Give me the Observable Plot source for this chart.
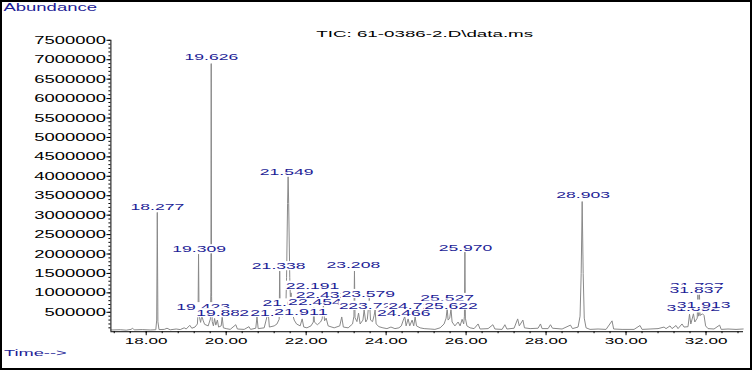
<!DOCTYPE html>
<html><head><meta charset="utf-8">
<script src="https://cdn.jsdelivr.net/npm/d3@7"></script>
<script src="https://cdn.jsdelivr.net/npm/@observablehq/plot@0.6"></script>
<style>
html,body{margin:0;padding:0;background:#fff;}
#wrap{position:relative;width:752px;height:370px;box-sizing:border-box;border:2px solid #000;background:#fff;}
#wrap svg{position:absolute;left:-2px;top:-2px;}
</style></head><body><div id="wrap"></div>
<script>
// ---- data ----
const titleText = "TIC: 61-0386-2.D\\data.ms";
const yLabelText = "Abundance";
const xLabelText = "Time-->";
const xDomain = [17.117, 32.938];
const yDomain = [0, 7500000];
const yTicks = [500000,1000000,1500000,2000000,2500000,3000000,3500000,4000000,4500000,5000000,5500000,6000000,6500000,7000000,7500000];
const xTicks = [18,20,22,24,26,28,30,32];

// chromatogram vertices (retention time, abundance)
const traceTime = [
 17.12,17.35,17.50,17.62,17.66,17.70,17.90,18.10,18.24,18.262,18.277,18.292,18.32,18.45,18.52,18.60,18.75,18.85,18.95,19.00,
 19.09,19.14,19.22,19.28,19.297,19.309,19.321,19.34,19.36,19.39,19.42,19.46,19.55,19.605,19.617,19.626,19.635,19.65,19.68,19.71,
 19.74,19.78,19.81,19.875,19.90,19.93,20.00,20.10,20.24,20.28,20.45,20.57,20.61,20.74,20.77,20.80,20.95,21.05,21.08,21.20,
 21.27,21.325,21.338,21.352,21.40,21.45,21.49,21.51,21.535,21.549,21.563,21.59,21.61,21.622,21.64,21.70,21.76,21.85,21.90,21.94,
 22.02,22.12,22.18,22.191,22.205,22.28,22.36,22.40,22.432,22.46,22.50,22.55,22.70,22.84,22.89,22.93,23.05,23.16,23.195,23.208,
 23.222,23.27,23.31,23.35,23.42,23.45,23.49,23.53,23.579,23.61,23.66,23.70,23.724,23.75,23.82,23.92,24.02,24.12,24.22,24.32,
 24.38,24.43,24.466,24.50,24.55,24.59,24.65,24.69,24.725,24.76,24.85,24.95,25.10,25.22,25.35,25.45,25.50,25.527,25.55,25.59,
 25.622,25.65,25.72,25.80,25.85,25.90,25.94,25.958,25.970,25.982,26.02,26.10,26.20,26.30,26.35,26.55,26.67,26.72,26.90,26.97,
 27.02,27.20,27.29,27.33,27.42,27.46,27.60,27.80,27.86,27.90,28.05,28.11,28.16,28.40,28.61,28.66,28.80,28.85,28.878,28.903,
 28.928,28.955,29.00,29.10,29.30,29.50,29.65,29.69,29.90,30.20,30.35,30.40,30.60,30.80,30.95,31.00,31.10,31.15,31.25,31.30,
 31.40,31.45,31.55,31.587,31.62,31.686,31.72,31.78,31.797,31.812,31.825,31.837,31.85,31.913,31.95,31.99,32.05,32.20,32.34,32.38,
 32.55,32.75,32.93
];
const traceAbund = [
 45000,52000,40000,60000,90000,48000,55000,45000,52000,300000,3070000,260000,55000,60000,90000,50000,70000,55000,100000,70000,
 165000,90000,120000,200000,500000,1995000,420000,330000,240000,420000,300000,190000,150000,330000,1000000,6900000,900000,260000,150000,340000,
 170000,300000,120000,150000,380000,100000,80000,60000,180000,70000,60000,130000,60000,90000,384000,80000,100000,510000,120000,150000,
 200000,320000,1560000,420000,380000,450000,520000,1400000,3300000,3990000,3300000,1400000,700000,1000000,550000,300000,200000,150000,330000,120000,
 100000,150000,250000,1000000,250000,180000,250000,330000,700000,280000,350000,150000,100000,150000,380000,120000,100000,200000,400000,1560000,
 360000,260000,480000,200000,300000,560000,250000,320000,860000,300000,260000,420000,560000,200000,130000,100000,80000,120000,80000,100000,
 150000,300000,390000,150000,330000,150000,300000,150000,380000,150000,100000,80000,70000,60000,100000,200000,350000,600000,300000,350000,
 580000,250000,150000,250000,150000,320000,200000,400000,2050000,350000,150000,100000,80000,200000,70000,80000,180000,70000,60000,180000,
 70000,90000,330000,150000,300000,100000,80000,90000,200000,80000,80000,180000,90000,70000,170000,80000,120000,400000,1500000,3350000,
 1500000,350000,100000,60000,70000,60000,280000,70000,60000,60000,160000,60000,70000,80000,120000,80000,150000,80000,160000,80000,
 200000,120000,130000,450000,200000,460000,250000,350000,950000,400000,420000,950000,420000,460000,420000,150000,80000,70000,170000,60000,
 70000,60000,70000
];

// peak labels: text, centre time, centre abundance
const labelText = ["18.277","19.309","19.423","19.626","19.882","21.046","21.212","21.338","21.549","21.622","21.911","22.191","22.454","22.432","23.208","23.493","23.579","23.724","24.466","24.725","25.527","25.622","25.970","28.903","31.692","31.797","31.837","31.913"];
const labelTime = [18.279,19.323,19.423,19.629,19.92,21.0,21.27,21.313,21.512,21.577,21.868,22.159,22.22,22.408,23.179,23.49,23.552,23.724,24.44,24.725,25.525,25.622,25.985,28.925,31.68,31.77,31.76,31.94];
const labelAbund = [3215000,2123000,632000,7059000,478000,486000,486000,1688000,4100000,729000,499000,1184000,767000,946000,1721000,665000,972000,665000,486000,665000,870000,673000,2166000,3529000,601000,1176000,1074000,698000];

// ---- build ----
const trace = traceTime.map((t, i) => ({t, a: traceAbund[i]}));
const labels = labelText.map((s, i) => ({s, t: labelTime[i], a: labelAbund[i]}));
const yMinor = d3.range(100000, 7500001, 100000);
const xMinor = d3.range(17.2, 32.95, 0.4);
const blue = "#1c1c96";

const plot = Plot.plot({
  width: 752, height: 370,
  marginLeft: 111, marginRight: 5, marginTop: 40, marginBottom: 37,
  style: {fontFamily: "'Liberation Sans', Arial, sans-serif", background: "transparent", color: "#000", overflow: "visible"},
  x: {domain: xDomain},
  y: {domain: yDomain},
  marks: [
    Plot.line(trace, {x: "t", y: "a", stroke: "#888", strokeWidth: 1}),
    Plot.text(labels, {x: "t", y: "a", text: "s", fill: blue, fontSize: 9.5, className: "peaklbl"}),
    Plot.ruleX([xDomain[0]], {y1: 0, y2: yDomain[1], stroke: "#000"}),
    Plot.ruleY([0], {stroke: "#000"}),
    Plot.axisY({ticks: yMinor, tickSize: 2, tickFormat: () => "", label: null, anchor: "left"}),
    Plot.axisY({ticks: yTicks, tickSize: 4, tickPadding: 1, tickFormat: d => String(d), fontSize: 11, label: null, anchor: "left", className: "ylab"}),
    Plot.axisX({ticks: xMinor, tickSize: 2, tickFormat: () => "", label: null, anchor: "bottom"}),
    Plot.axisX({ticks: xTicks, tickSize: 4, tickPadding: 1, tickFormat: d => d.toFixed(2), fontSize: 10, label: null, anchor: "bottom", className: "xlab"})
  ]
});
const wrap = document.getElementById("wrap");
wrap.appendChild(plot);
const svg = d3.select(plot);

function stretch(el, w) {
  el.setAttribute("textLength", w);
  el.setAttribute("lengthAdjust", "spacingAndGlyphs");
}
svg.selectAll("text").each(function () {
  const s = this.textContent;
  const lab = this.closest("g[aria-label]");
  const al = lab ? lab.getAttribute("aria-label") : "";
  if (!s) return;
  if (al.indexOf("y-axis") >= 0) stretch(this, 10.3 * s.length);
  else if (al.indexOf("x-axis") >= 0) stretch(this, 43);
});
svg.selectAll(".peaklbl text").each(function () {
  stretch(this, 54);
  const b = this.getBBox();
  const cy = b.y + b.height / 2;
  const r = document.createElementNS("http://www.w3.org/2000/svg", "rect");
  r.setAttribute("x", b.x - 0.5);
  r.setAttribute("width", b.width + 1);
  r.setAttribute("y", cy - 4.6);
  r.setAttribute("height", 9.2);
  r.setAttribute("fill", "#fff");
  const tr = this.getAttribute("transform");
  if (tr) r.setAttribute("transform", tr);
  this.parentNode.insertBefore(r, this);
});

svg.append("text").attr("x", 3.5).attr("y", 11.5).attr("fill", blue).attr("font-size", 11)
  .attr("text-anchor", "start").attr("textLength", 94).attr("lengthAdjust", "spacingAndGlyphs").text(yLabelText);
svg.append("text").attr("x", 318).attr("y", 37).attr("fill", "#000").attr("font-size", 10)
  .attr("text-anchor", "start").attr("textLength", 218).attr("lengthAdjust", "spacingAndGlyphs").text(titleText);
svg.append("text").attr("x", 4).attr("y", 357.5).attr("fill", blue).attr("font-size", 10)
  .attr("text-anchor", "start").attr("textLength", 63).attr("lengthAdjust", "spacingAndGlyphs").text(xLabelText);
</script></body></html>
